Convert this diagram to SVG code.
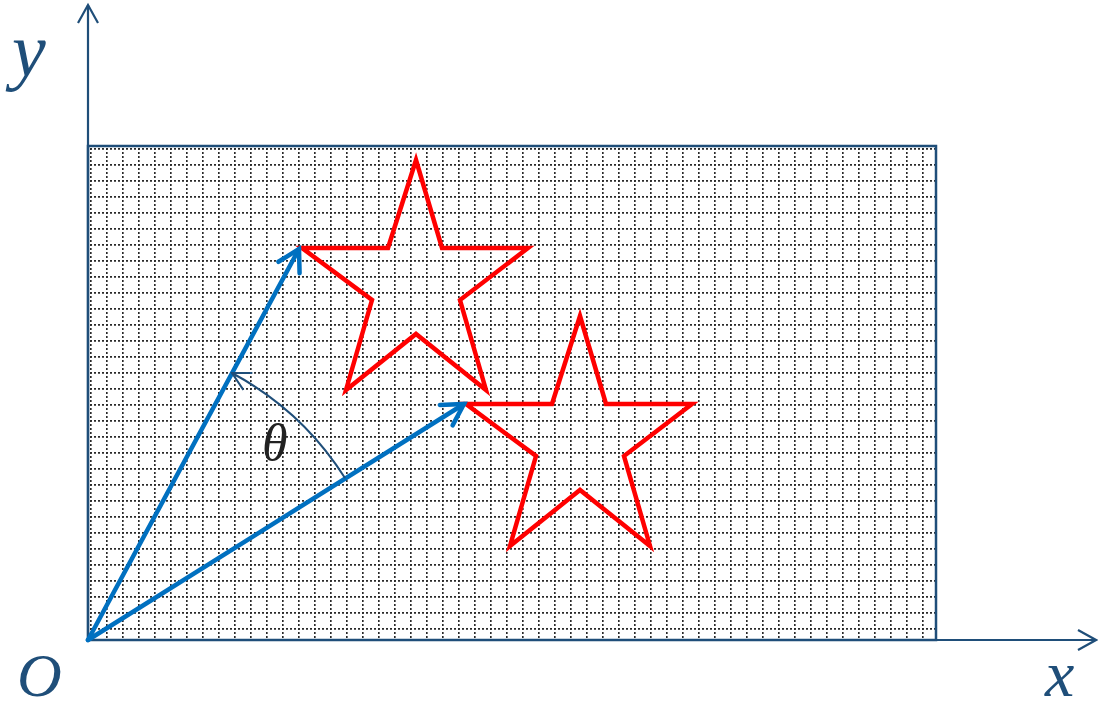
<svg xmlns="http://www.w3.org/2000/svg" width="1098" height="711" viewBox="0 0 1098 711">
  <style>
    .axis { stroke: #1F4E79; stroke-width: 2.2; fill: none; }
    .vec { stroke: #0070C0; stroke-width: 4.5; fill: none; stroke-linecap: round; }
    .star { stroke: #FF0000; stroke-width: 4.5; fill: none; stroke-linejoin: miter; stroke-miterlimit: 10; }
    .lbl { font-family: "Liberation Serif", "DejaVu Serif", serif; font-style: italic; fill: #1F4E79; }
  </style>
  <defs>
    <pattern id="grid" patternUnits="userSpaceOnUse" x="106" y="164" width="16" height="16">
      <line x1="0.8" y1="0" x2="0.8" y2="16" stroke="#2a2a2a" stroke-width="1.7" stroke-dasharray="2 2"/>
      <line x1="0" y1="0.8" x2="16" y2="0.8" stroke="#2a2a2a" stroke-width="1.7" stroke-dasharray="2 2"/>
    </pattern>
    <marker id="axhead" markerUnits="userSpaceOnUse" markerWidth="40" markerHeight="40" refX="0" refY="0" orient="auto" overflow="visible" viewBox="-30 -20 40 40">
      <path d="M-18,-10 L0,0 L-18,10" fill="none" stroke="#1F4E79" stroke-width="2.2"/>
    </marker>
    <marker id="vechead" markerUnits="userSpaceOnUse" markerWidth="40" markerHeight="40" refX="0" refY="0" orient="auto" overflow="visible" viewBox="-30 -20 40 40">
      <path d="M-21,-12 L0,0 L-21,12" fill="none" stroke="#0070C0" stroke-width="4.5" stroke-linecap="round" stroke-linejoin="miter"/>
    </marker>
    <marker id="archead" markerUnits="userSpaceOnUse" markerWidth="40" markerHeight="40" refX="0" refY="0" orient="auto" overflow="visible" viewBox="-30 -20 40 40">
      <path d="M-18,-9.5 L0,0 L-18,9.5" fill="none" stroke="#1F4E79" stroke-width="2"/>
    </marker>
  </defs>

  <g id="frame">
    <rect x="88" y="146" width="848" height="494" fill="#fff"/>
    <rect x="88" y="146" width="848" height="494" fill="url(#grid)"/>
    <rect x="88" y="146" width="848" height="494" fill="none" stroke="#1F4E79" stroke-width="2.5"/>
  </g>

  <g id="star1">
    <path class="star" d="M416,160 L442,248 L528,248 L460,300 L486,390 L416,334 L346,390 L372,300 L302,248 L388,248 Z"/>
  </g>
  <g id="star2">
    <path class="star" d="M580,316 L606,404 L692,404 L624,456 L650,546 L580,490 L510,546 L536,456 L466,404 L552,404 Z"/>
  </g>

  <g id="connectors">
    <line class="axis" x1="88" y1="640" x2="88" y2="5" marker-end="url(#axhead)"/>
    <line class="axis" x1="88" y1="640" x2="1096" y2="640" marker-end="url(#axhead)"/>
    <line class="vec" x1="88" y1="640" x2="299" y2="249" marker-end="url(#vechead)"/>
    <line class="vec" x1="88" y1="640" x2="464" y2="404" marker-end="url(#vechead)"/>
    <path d="M345,478 A303,303 0 0 0 232,373" fill="none" stroke="#1F4E79" stroke-width="2" marker-end="url(#archead)"/>
  </g>

  <g id="labels">
    <text class="lbl" x="12" y="76" font-size="76">y</text>
    <text class="lbl" x="17" y="696" font-size="62">O</text>
    <text class="lbl" x="1045" y="696" font-size="66">x</text>
    <text x="262" y="460" font-size="52" font-family="Liberation Serif, DejaVu Serif, serif" font-style="italic" fill="#222">θ</text>
  </g>
</svg>
